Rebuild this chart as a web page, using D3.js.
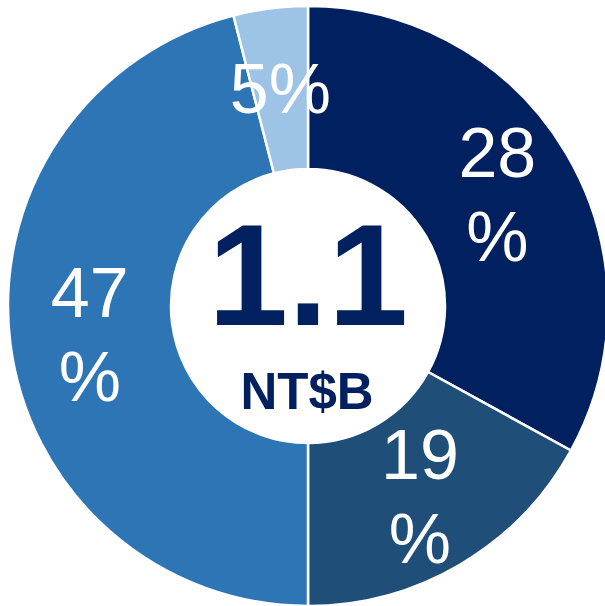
<!DOCTYPE html>
<html>
<head>
<meta charset="utf-8">
<script src="https://cdn.jsdelivr.net/npm/d3@7"></script>
<style>
  body { margin: 0; background: #fff; }
  text { font-family: Arial, "Liberation Sans", sans-serif; }
</style>
</head>
<body>
<div id="chart"></div>
<script>
const segments = ["a", "b", "c", "d"];
const shares = [33, 17, 46, 4];
const labels = [["28", "%"], ["19", "%"], ["47", "%"], ["5%"]];
const colors = ["#002060", "#1f4e79", "#2e75b6", "#9dc3e6"];
const centerValue = "1.1";
const centerUnit = "NT$B";

const width = 605;
const height = 606;
const cx = 308, cy = 306;
const outerR = 300, innerR = 137;

const svg = d3.select("#chart")
  .append("svg")
  .attr("width", width)
  .attr("height", height);

const g = svg.append("g").attr("transform", "translate(" + cx + "," + cy + ")");

const pie = d3.pie().sort(null).value((d, i) => shares[i]);
const arcs = pie(segments);

const arc = d3.arc().innerRadius(innerR).outerRadius(outerR);
const labelArc = d3.arc().innerRadius(220).outerRadius(220);

g.selectAll(".slice")
  .data(arcs)
  .enter()
  .append("path")
  .attr("class", "slice")
  .attr("d", arc)
  .attr("fill", (d, i) => colors[i])
  .attr("stroke", "#fff")
  .attr("stroke-width", 2.5);

// labels
const lineGap = 84;
arcs.forEach((d, i) => {
  const [x, y] = labelArc.centroid(d);
  const lines = labels[i];
  const start = -(lines.length - 1) * lineGap / 2;
  lines.forEach((t, j) => {
    g.append("text")
      .attr("x", x)
      .attr("y", y + start + j * lineGap)
      .attr("dy", "0.36em")
      .attr("text-anchor", "middle")
      .attr("fill", "#fff")
      .attr("font-size", 70)
      .text(t);
  });
});

// center
g.append("text")
  .attr("x", 0)
  .attr("y", 19)
  .attr("text-anchor", "middle")
  .attr("fill", "#002060")
  .attr("font-weight", "bold")
  .attr("font-size", 144)
  .text(centerValue);

g.append("text")
  .attr("x", -1)
  .attr("y", 103)
  .attr("text-anchor", "middle")
  .attr("fill", "#002060")
  .attr("font-weight", "bold")
  .attr("font-size", 51)
  .text(centerUnit);
</script>
</body>
</html>
